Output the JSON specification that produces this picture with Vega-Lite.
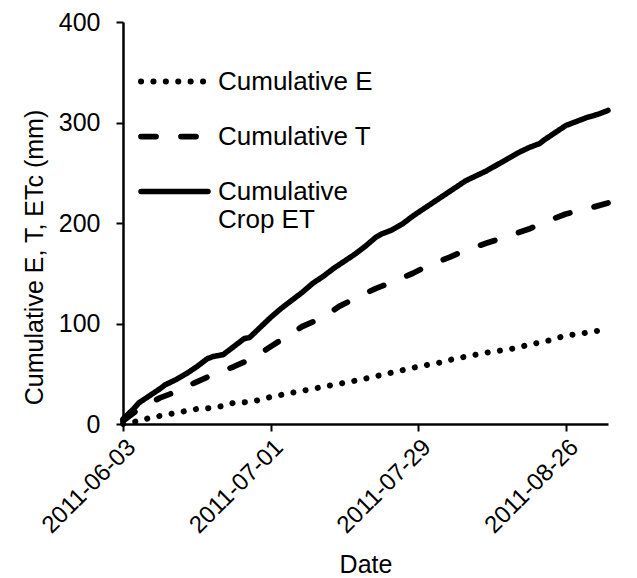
{
  "$schema": "https://vega.github.io/schema/vega-lite/v6.json",
  "width": 485,
  "height": 402,
  "autosize": {"type": "none"},
  "padding": {"left": 123, "top": 22, "right": 29, "bottom": 154},
  "background": "white",
  "config": {
    "font": "Liberation Sans",
    "view": {"stroke": null},
    "axis": {"grid": false, "domainColor": "black", "domainWidth": 2.5, "tickColor": "black", "tickWidth": 2, "tickSize": 7, "labelColor": "black", "titleColor": "black", "titleFontWeight": "normal", "labelFontSize": 25, "titleFontSize": 25}
  },
  "data": {"values": [
    {"date": "2011-06-03", "series": "Cumulative Crop ET", "value": 5},
    {"date": "2011-06-05", "series": "Cumulative Crop ET", "value": 15},
    {"date": "2011-06-06", "series": "Cumulative Crop ET", "value": 21},
    {"date": "2011-06-08", "series": "Cumulative Crop ET", "value": 28},
    {"date": "2011-06-10", "series": "Cumulative Crop ET", "value": 35},
    {"date": "2011-06-11", "series": "Cumulative Crop ET", "value": 39},
    {"date": "2011-06-13", "series": "Cumulative Crop ET", "value": 44},
    {"date": "2011-06-15", "series": "Cumulative Crop ET", "value": 50},
    {"date": "2011-06-17", "series": "Cumulative Crop ET", "value": 57},
    {"date": "2011-06-19", "series": "Cumulative Crop ET", "value": 65},
    {"date": "2011-06-20", "series": "Cumulative Crop ET", "value": 67},
    {"date": "2011-06-22", "series": "Cumulative Crop ET", "value": 69},
    {"date": "2011-06-24", "series": "Cumulative Crop ET", "value": 77},
    {"date": "2011-06-26", "series": "Cumulative Crop ET", "value": 85},
    {"date": "2011-06-27", "series": "Cumulative Crop ET", "value": 86},
    {"date": "2011-06-29", "series": "Cumulative Crop ET", "value": 96},
    {"date": "2011-07-01", "series": "Cumulative Crop ET", "value": 106},
    {"date": "2011-07-03", "series": "Cumulative Crop ET", "value": 115},
    {"date": "2011-07-05", "series": "Cumulative Crop ET", "value": 123},
    {"date": "2011-07-07", "series": "Cumulative Crop ET", "value": 131},
    {"date": "2011-07-09", "series": "Cumulative Crop ET", "value": 140},
    {"date": "2011-07-11", "series": "Cumulative Crop ET", "value": 147},
    {"date": "2011-07-13", "series": "Cumulative Crop ET", "value": 155},
    {"date": "2011-07-15", "series": "Cumulative Crop ET", "value": 162},
    {"date": "2011-07-17", "series": "Cumulative Crop ET", "value": 169},
    {"date": "2011-07-19", "series": "Cumulative Crop ET", "value": 177},
    {"date": "2011-07-21", "series": "Cumulative Crop ET", "value": 186},
    {"date": "2011-07-22", "series": "Cumulative Crop ET", "value": 189},
    {"date": "2011-07-24", "series": "Cumulative Crop ET", "value": 193},
    {"date": "2011-07-26", "series": "Cumulative Crop ET", "value": 199},
    {"date": "2011-07-28", "series": "Cumulative Crop ET", "value": 207},
    {"date": "2011-07-30", "series": "Cumulative Crop ET", "value": 214},
    {"date": "2011-08-01", "series": "Cumulative Crop ET", "value": 221},
    {"date": "2011-08-03", "series": "Cumulative Crop ET", "value": 228},
    {"date": "2011-08-05", "series": "Cumulative Crop ET", "value": 235},
    {"date": "2011-08-07", "series": "Cumulative Crop ET", "value": 242},
    {"date": "2011-08-09", "series": "Cumulative Crop ET", "value": 247},
    {"date": "2011-08-11", "series": "Cumulative Crop ET", "value": 252},
    {"date": "2011-08-13", "series": "Cumulative Crop ET", "value": 258},
    {"date": "2011-08-15", "series": "Cumulative Crop ET", "value": 264},
    {"date": "2011-08-17", "series": "Cumulative Crop ET", "value": 270},
    {"date": "2011-08-19", "series": "Cumulative Crop ET", "value": 275},
    {"date": "2011-08-21", "series": "Cumulative Crop ET", "value": 279},
    {"date": "2011-08-22", "series": "Cumulative Crop ET", "value": 283},
    {"date": "2011-08-24", "series": "Cumulative Crop ET", "value": 290},
    {"date": "2011-08-26", "series": "Cumulative Crop ET", "value": 297},
    {"date": "2011-08-28", "series": "Cumulative Crop ET", "value": 301},
    {"date": "2011-08-30", "series": "Cumulative Crop ET", "value": 305},
    {"date": "2011-09-01", "series": "Cumulative Crop ET", "value": 308},
    {"date": "2011-09-03", "series": "Cumulative Crop ET", "value": 312},
    {"date": "2011-06-03", "series": "Cumulative T", "value": 3},
    {"date": "2011-06-06", "series": "Cumulative T", "value": 15},
    {"date": "2011-06-10", "series": "Cumulative T", "value": 26},
    {"date": "2011-06-13", "series": "Cumulative T", "value": 32},
    {"date": "2011-06-17", "series": "Cumulative T", "value": 42},
    {"date": "2011-06-20", "series": "Cumulative T", "value": 49},
    {"date": "2011-06-24", "series": "Cumulative T", "value": 57},
    {"date": "2011-06-27", "series": "Cumulative T", "value": 64},
    {"date": "2011-06-29", "series": "Cumulative T", "value": 70},
    {"date": "2011-07-01", "series": "Cumulative T", "value": 77},
    {"date": "2011-07-04", "series": "Cumulative T", "value": 87},
    {"date": "2011-07-07", "series": "Cumulative T", "value": 97},
    {"date": "2011-07-11", "series": "Cumulative T", "value": 106},
    {"date": "2011-07-14", "series": "Cumulative T", "value": 117},
    {"date": "2011-07-17", "series": "Cumulative T", "value": 125},
    {"date": "2011-07-21", "series": "Cumulative T", "value": 135},
    {"date": "2011-07-24", "series": "Cumulative T", "value": 141},
    {"date": "2011-07-28", "series": "Cumulative T", "value": 150},
    {"date": "2011-07-31", "series": "Cumulative T", "value": 158},
    {"date": "2011-08-04", "series": "Cumulative T", "value": 166},
    {"date": "2011-08-07", "series": "Cumulative T", "value": 173},
    {"date": "2011-08-11", "series": "Cumulative T", "value": 180},
    {"date": "2011-08-15", "series": "Cumulative T", "value": 187},
    {"date": "2011-08-19", "series": "Cumulative T", "value": 194},
    {"date": "2011-08-22", "series": "Cumulative T", "value": 201},
    {"date": "2011-08-26", "series": "Cumulative T", "value": 209},
    {"date": "2011-08-30", "series": "Cumulative T", "value": 214},
    {"date": "2011-09-03", "series": "Cumulative T", "value": 220},
    {"date": "2011-06-03", "series": "Cumulative E", "value": 0},
    {"date": "2011-06-06", "series": "Cumulative E", "value": 3},
    {"date": "2011-06-08", "series": "Cumulative E", "value": 6},
    {"date": "2011-06-10", "series": "Cumulative E", "value": 8},
    {"date": "2011-06-13", "series": "Cumulative E", "value": 11},
    {"date": "2011-06-15", "series": "Cumulative E", "value": 13},
    {"date": "2011-06-17", "series": "Cumulative E", "value": 15},
    {"date": "2011-06-20", "series": "Cumulative E", "value": 16},
    {"date": "2011-06-22", "series": "Cumulative E", "value": 18},
    {"date": "2011-06-24", "series": "Cumulative E", "value": 21},
    {"date": "2011-06-27", "series": "Cumulative E", "value": 22},
    {"date": "2011-06-29", "series": "Cumulative E", "value": 24},
    {"date": "2011-07-01", "series": "Cumulative E", "value": 27},
    {"date": "2011-07-04", "series": "Cumulative E", "value": 30},
    {"date": "2011-07-06", "series": "Cumulative E", "value": 32},
    {"date": "2011-07-09", "series": "Cumulative E", "value": 35},
    {"date": "2011-07-13", "series": "Cumulative E", "value": 39},
    {"date": "2011-07-18", "series": "Cumulative E", "value": 44},
    {"date": "2011-07-23", "series": "Cumulative E", "value": 50},
    {"date": "2011-07-28", "series": "Cumulative E", "value": 56},
    {"date": "2011-08-02", "series": "Cumulative E", "value": 61},
    {"date": "2011-08-05", "series": "Cumulative E", "value": 65},
    {"date": "2011-08-07", "series": "Cumulative E", "value": 67},
    {"date": "2011-08-10", "series": "Cumulative E", "value": 70},
    {"date": "2011-08-12", "series": "Cumulative E", "value": 72},
    {"date": "2011-08-15", "series": "Cumulative E", "value": 74},
    {"date": "2011-08-17", "series": "Cumulative E", "value": 76},
    {"date": "2011-08-19", "series": "Cumulative E", "value": 79},
    {"date": "2011-08-22", "series": "Cumulative E", "value": 82},
    {"date": "2011-08-24", "series": "Cumulative E", "value": 85},
    {"date": "2011-08-26", "series": "Cumulative E", "value": 88},
    {"date": "2011-08-29", "series": "Cumulative E", "value": 90},
    {"date": "2011-08-31", "series": "Cumulative E", "value": 92},
    {"date": "2011-09-03", "series": "Cumulative E", "value": 94}
  ]},
  "mark": {"type": "line", "color": "black", "strokeCap": "round", "strokeJoin": "round", "clip": false},
  "encoding": {
    "x": {
      "field": "date", "type": "temporal",
      "scale": {"type": "utc", "domain": [{"year": 2011, "month": 6, "date": 3, "utc": true}, {"year": 2011, "month": 9, "date": 3, "utc": true}]},
      "axis": {
        "title": "Date",
        "format": "%Y-%m-%d",
        "values": [{"year": 2011, "month": 6, "date": 3, "utc": true}, {"year": 2011, "month": 7, "date": 1, "utc": true}, {"year": 2011, "month": 7, "date": 29, "utc": true}, {"year": 2011, "month": 8, "date": 26, "utc": true}],
        "labelAngle": -45,
        "labelFontSize": 24,
        "labelPadding": 4,
        "titleY": 148,
        "titleBaseline": "alphabetic"
      }
    },
    "y": {
      "field": "value", "type": "quantitative",
      "scale": {"domain": [0, 400], "nice": false},
      "axis": {
        "title": "Cumulative E, T, ETc (mm)",
        "values": [0, 100, 200, 300, 400],
        "labelPadding": 16,
        "titleAngle": -90,
        "titleX": -101,
        "titleY": 235,
        "titleAlign": "center",
        "titleBaseline": "top"
      }
    },
    "strokeWidth": {
      "field": "series", "type": "nominal",
      "scale": {"domain": ["Cumulative E", "Cumulative T", "Cumulative Crop ET"], "range": [6, 5.5, 5]},
      "legend": null
    },
    "strokeDash": {
      "field": "series", "type": "nominal",
      "scale": {"domain": ["Cumulative E", "Cumulative T", "Cumulative Crop ET"], "range": [[0.1, 12.3], [15, 25], [1, 0]]},
      "legend": {
        "orient": "none",
        "legendX": 15,
        "legendY": 23,
        "title": null,
        "padding": 0,
        "symbolType": "stroke",
        "symbolSize": 4489,
        "symbolStrokeWidth": 5,
        "symbolStrokeColor": "black",
        "labelFontSize": 26,
        "labelColor": "black",
        "labelOffset": 7,
        "labelLimit": 0,
        "rowPadding": 5,
        "labelExpr": "datum.label == 'Cumulative Crop ET' ? ['Cumulative', 'Crop ET'] : datum.label",
        "encode": {"symbols": {"update": {"strokeCap": {"value": "round"}}}}
      }
    }
  }
}
